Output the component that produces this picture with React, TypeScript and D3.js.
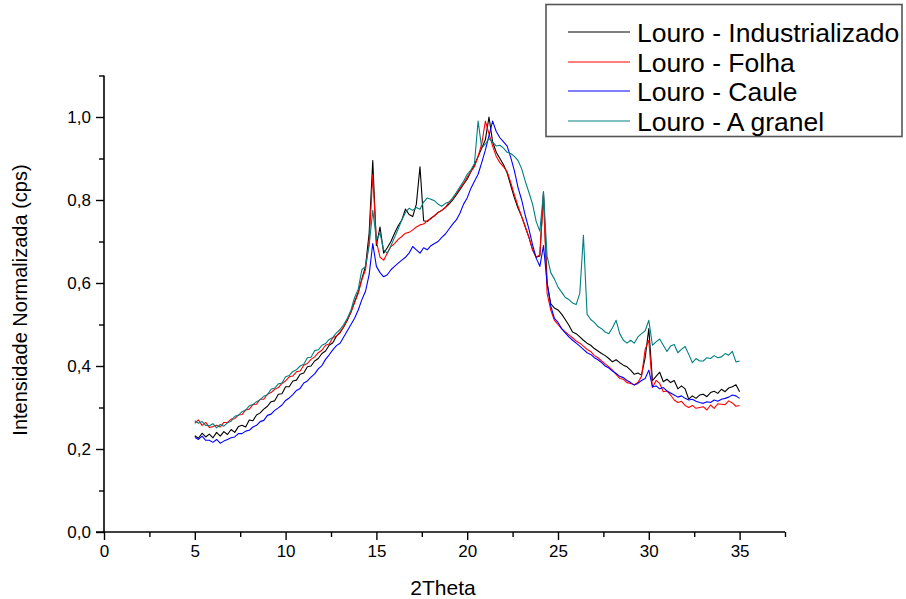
import React, { useEffect, useRef } from "react";
import * as d3 from "d3";

// 2Theta grid: 5.0 .. 35.0, step 0.2 (151 points)
const X_START = 5;
const X_STEP = 0.2;

const seriesNames = [
  "Louro - Industrializado",
  "Louro - Folha",
  "Louro - Caule",
  "Louro - A granel",
];

const industrializado = [
  0.232, 0.226, 0.238, 0.229, 0.236, 0.227, 0.240, 0.231, 0.242, 0.235,
  0.247, 0.240, 0.254, 0.257, 0.253, 0.270, 0.268, 0.282, 0.287, 0.296,
  0.303, 0.314, 0.316, 0.332, 0.333, 0.350, 0.350, 0.364, 0.366, 0.380,
  0.383, 0.398, 0.400, 0.412, 0.418, 0.430, 0.436, 0.450, 0.456, 0.472,
  0.480, 0.494, 0.510, 0.530, 0.555, 0.578, 0.610, 0.640, 0.720, 0.895,
  0.690, 0.735, 0.672, 0.685, 0.700, 0.720, 0.738, 0.752, 0.778, 0.765,
  0.760, 0.790, 0.880, 0.750, 0.748, 0.756, 0.762, 0.770, 0.775, 0.782,
  0.790, 0.800, 0.812, 0.825, 0.838, 0.850, 0.868, 0.885, 0.905, 0.925,
  0.945, 1.000, 0.940, 0.915, 0.900, 0.885, 0.865, 0.835, 0.805, 0.780,
  0.760, 0.735, 0.710, 0.680, 0.662, 0.665, 0.820, 0.600, 0.550, 0.540,
  0.535, 0.525, 0.512, 0.498, 0.482, 0.478, 0.470, 0.462, 0.455, 0.450,
  0.442, 0.436, 0.430, 0.425, 0.418, 0.410, 0.415, 0.408, 0.402, 0.398,
  0.390, 0.380, 0.383, 0.378, 0.420, 0.490, 0.365, 0.375, 0.385, 0.362,
  0.368, 0.360, 0.365, 0.345, 0.352, 0.345, 0.320, 0.328, 0.322, 0.330,
  0.332, 0.326, 0.336, 0.339, 0.334, 0.344, 0.338, 0.347, 0.350, 0.355, 0.338,
];

const folha = [
  0.262, 0.270, 0.257, 0.264, 0.252, 0.254, 0.257, 0.253, 0.264, 0.264,
  0.272, 0.273, 0.282, 0.283, 0.294, 0.296, 0.307, 0.308, 0.320, 0.320,
  0.332, 0.336, 0.344, 0.348, 0.358, 0.364, 0.374, 0.376, 0.386, 0.388,
  0.402, 0.406, 0.416, 0.422, 0.432, 0.438, 0.450, 0.453, 0.468, 0.472,
  0.482, 0.495, 0.512, 0.530, 0.552, 0.575, 0.608, 0.632, 0.700, 0.860,
  0.700, 0.662, 0.655, 0.672, 0.688, 0.695, 0.705, 0.712, 0.720, 0.722,
  0.728, 0.735, 0.740, 0.742, 0.750, 0.755, 0.762, 0.770, 0.775, 0.782,
  0.795, 0.802, 0.815, 0.828, 0.840, 0.855, 0.868, 0.880, 0.905, 0.935,
  0.990, 0.960, 0.930, 0.905, 0.890, 0.880, 0.868, 0.842, 0.812, 0.785,
  0.760, 0.735, 0.710, 0.680, 0.662, 0.668, 0.810, 0.575, 0.535, 0.510,
  0.500, 0.490, 0.482, 0.475, 0.468, 0.460, 0.455, 0.448, 0.440, 0.435,
  0.425, 0.420, 0.412, 0.405, 0.398, 0.390, 0.380, 0.370, 0.368, 0.360,
  0.358, 0.355, 0.360, 0.375, 0.440, 0.462, 0.348, 0.365, 0.358, 0.338,
  0.340, 0.330, 0.318, 0.312, 0.315, 0.305, 0.300, 0.305, 0.298, 0.300,
  0.302, 0.294, 0.306, 0.298, 0.309, 0.308, 0.307, 0.316, 0.311, 0.303, 0.305,
];

const caule = [
  0.228, 0.223, 0.231, 0.221, 0.221, 0.216, 0.223, 0.214, 0.219, 0.223,
  0.227, 0.229, 0.237, 0.237, 0.243, 0.245, 0.253, 0.257, 0.266, 0.269,
  0.281, 0.284, 0.293, 0.299, 0.306, 0.317, 0.323, 0.331, 0.341, 0.346,
  0.359, 0.364, 0.373, 0.381, 0.393, 0.401, 0.416, 0.427, 0.439, 0.449,
  0.455, 0.470, 0.485, 0.500, 0.515, 0.535, 0.560, 0.580, 0.620, 0.695,
  0.640, 0.625, 0.615, 0.620, 0.632, 0.640, 0.648, 0.655, 0.662, 0.672,
  0.688, 0.680, 0.672, 0.685, 0.680, 0.690, 0.695, 0.700, 0.710, 0.718,
  0.730, 0.742, 0.752, 0.768, 0.790, 0.805, 0.828, 0.845, 0.862, 0.890,
  0.920, 0.955, 0.990, 0.965, 0.950, 0.940, 0.930, 0.902, 0.870, 0.830,
  0.800, 0.762, 0.730, 0.692, 0.660, 0.640, 0.690, 0.600, 0.545, 0.515,
  0.505, 0.490, 0.480, 0.470, 0.462, 0.455, 0.448, 0.440, 0.432, 0.428,
  0.420, 0.415, 0.408, 0.400, 0.395, 0.388, 0.382, 0.375, 0.372, 0.365,
  0.360, 0.354, 0.358, 0.365, 0.370, 0.390, 0.350, 0.352, 0.345, 0.348,
  0.340, 0.335, 0.330, 0.325, 0.328, 0.322, 0.318, 0.320, 0.315, 0.312,
  0.310, 0.314, 0.312, 0.318, 0.315, 0.320, 0.322, 0.325, 0.330, 0.328, 0.322,
];

const granel = [
  0.268, 0.262, 0.266, 0.257, 0.256, 0.261, 0.251, 0.259, 0.255, 0.263,
  0.267, 0.279, 0.281, 0.290, 0.294, 0.304, 0.307, 0.314, 0.319, 0.327,
  0.331, 0.344, 0.347, 0.357, 0.359, 0.374, 0.377, 0.387, 0.391, 0.400,
  0.404, 0.420, 0.421, 0.437, 0.439, 0.450, 0.454, 0.464, 0.469, 0.480,
  0.488, 0.500, 0.515, 0.535, 0.565, 0.585, 0.632, 0.640, 0.690, 0.775,
  0.705, 0.720, 0.680, 0.672, 0.690, 0.710, 0.730, 0.752, 0.770, 0.780,
  0.775, 0.782, 0.778, 0.795, 0.805, 0.802, 0.798, 0.790, 0.785, 0.792,
  0.795, 0.805, 0.818, 0.832, 0.845, 0.862, 0.872, 0.888, 0.990, 0.925,
  0.935, 0.948, 0.940, 0.930, 0.932, 0.925, 0.915, 0.912, 0.905, 0.895,
  0.875, 0.845, 0.818, 0.790, 0.748, 0.725, 0.818, 0.665, 0.625, 0.610,
  0.590, 0.578, 0.565, 0.560, 0.552, 0.548, 0.575, 0.715, 0.525, 0.512,
  0.505, 0.495, 0.490, 0.482, 0.478, 0.492, 0.510, 0.478, 0.462, 0.455,
  0.462, 0.455, 0.470, 0.478, 0.485, 0.510, 0.450, 0.458, 0.465, 0.450,
  0.435, 0.448, 0.452, 0.432, 0.440, 0.447, 0.428, 0.408, 0.418, 0.412,
  0.412, 0.420, 0.418, 0.425, 0.420, 0.422, 0.430, 0.426, 0.435, 0.410, 0.412,
];

const seriesValues = [industrializado, folha, caule, granel];
const seriesColors = ["#000000", "#ff0000", "#0000ff", "#008080"];

const xMajorTicks = [0, 5, 10, 15, 20, 25, 30, 35];
const xMinorTicks = [2.5, 7.5, 12.5, 17.5, 22.5, 27.5, 32.5, 37.5];
const yMajorTicks = [0, 0.2, 0.4, 0.6, 0.8, 1.0];
const yMinorTicks = [0.1, 0.3, 0.5, 0.7, 0.9, 1.1];

const W = 906;
const H = 599;
const FONT = "'Liberation Sans', Arial, Helvetica, sans-serif";

export default function App() {
  const gRef = useRef<SVGGElement | null>(null);

  useEffect(() => {
    const g = d3.select(gRef.current);
    g.selectAll("*").remove();

    const x = d3.scaleLinear().domain([0, 37.5]).range([104, 785]);
    const y = d3.scaleLinear().domain([0, 1.1]).range([532, 75.5]);

    // data lines
    const line = d3
      .line<number>()
      .x((_, i) => x(X_START + i * X_STEP))
      .y((d) => y(d));

    seriesValues.forEach((vals, k) => {
      g.append("path")
        .attr("d", line(vals) as string)
        .attr("fill", "none")
        .attr("stroke", seriesColors[k])
        .attr("stroke-width", 1.1)
        .attr("stroke-linejoin", "round");
    });

    const fmt = (v: number) => d3.format(".1f")(v).replace(".", ",");

    // y axis
    const yAxis = g.append("g").attr("transform", `translate(${x(0)},0)`);
    yAxis.call(
      d3.axisLeft(y).tickValues(yMajorTicks).tickSize(8).tickPadding(5).tickFormat((d) => fmt(d as number))
    );
    const yMinor = g.append("g").attr("transform", `translate(${x(0)},0)`);
    yMinor.call(d3.axisLeft(y).tickValues(yMinorTicks).tickSize(5).tickFormat(() => ""));
    yMinor.select(".domain").remove();

    // x axis
    const xAxis = g.append("g").attr("transform", `translate(0,${y(0)})`);
    xAxis.call(d3.axisBottom(x).tickValues(xMajorTicks).tickSize(8).tickPadding(5).tickFormat((d) => String(d)));
    const xMinor = g.append("g").attr("transform", `translate(0,${y(0)})`);
    xMinor.call(d3.axisBottom(x).tickValues(xMinorTicks).tickSize(5).tickFormat(() => ""));
    xMinor.select(".domain").remove();

    [yAxis, xAxis, yMinor, xMinor].forEach((a) => {
      a.selectAll("path.domain").attr("stroke", "#000").attr("stroke-width", 1.6);
      a.selectAll(".tick line").attr("stroke", "#000").attr("stroke-width", 1.4);
      a.selectAll("text").attr("font-family", FONT).attr("font-size", 17).attr("fill", "#000");
    });
    yAxis.select(".domain").attr("d", `M0,${y(1.1)}V${y(0)}`);
    xAxis.select(".domain").attr("d", `M${x(0) - 8},0H${x(37.5)}`);

    // axis titles
    g.append("text")
      .attr("x", 443)
      .attr("y", 595)
      .attr("text-anchor", "middle")
      .attr("font-family", FONT)
      .attr("font-size", 21)
      .text("2Theta");

    g.append("text")
      .attr("transform", `translate(27,${300}) rotate(-90)`)
      .attr("text-anchor", "middle")
      .attr("font-family", FONT)
      .attr("font-size", 20)
      .text("Intensidade Normalizada (cps)");

    // legend
    const lg = g.append("g");
    lg.append("rect")
      .attr("x", 546)
      .attr("y", 4.5)
      .attr("width", 356)
      .attr("height", 132)
      .attr("fill", "#fff")
      .attr("stroke", "#555")
      .attr("stroke-width", 1.6);
    const rowY = [32, 62, 91, 121];
    seriesNames.forEach((name, k) => {
      lg.append("line")
        .attr("x1", 568)
        .attr("x2", 630)
        .attr("y1", rowY[k])
        .attr("y2", rowY[k])
        .attr("stroke", seriesColors[k])
        .attr("stroke-width", 1.2);
      lg.append("text")
        .attr("x", 637)
        .attr("y", rowY[k])
        .attr("dy", "0.36em")
        .attr("font-family", FONT)
        .attr("font-size", 26.5)
        .attr("fill", "#000")
        .text(name);
    });
  }, []);

  return (
    <svg
      width={W}
      height={H}
      style={{ position: "absolute", left: 0, top: 0, background: "#fff" }}
    >
      <rect width={W} height={H} fill="#fff" />
      <g ref={gRef} />
    </svg>
  );
}
